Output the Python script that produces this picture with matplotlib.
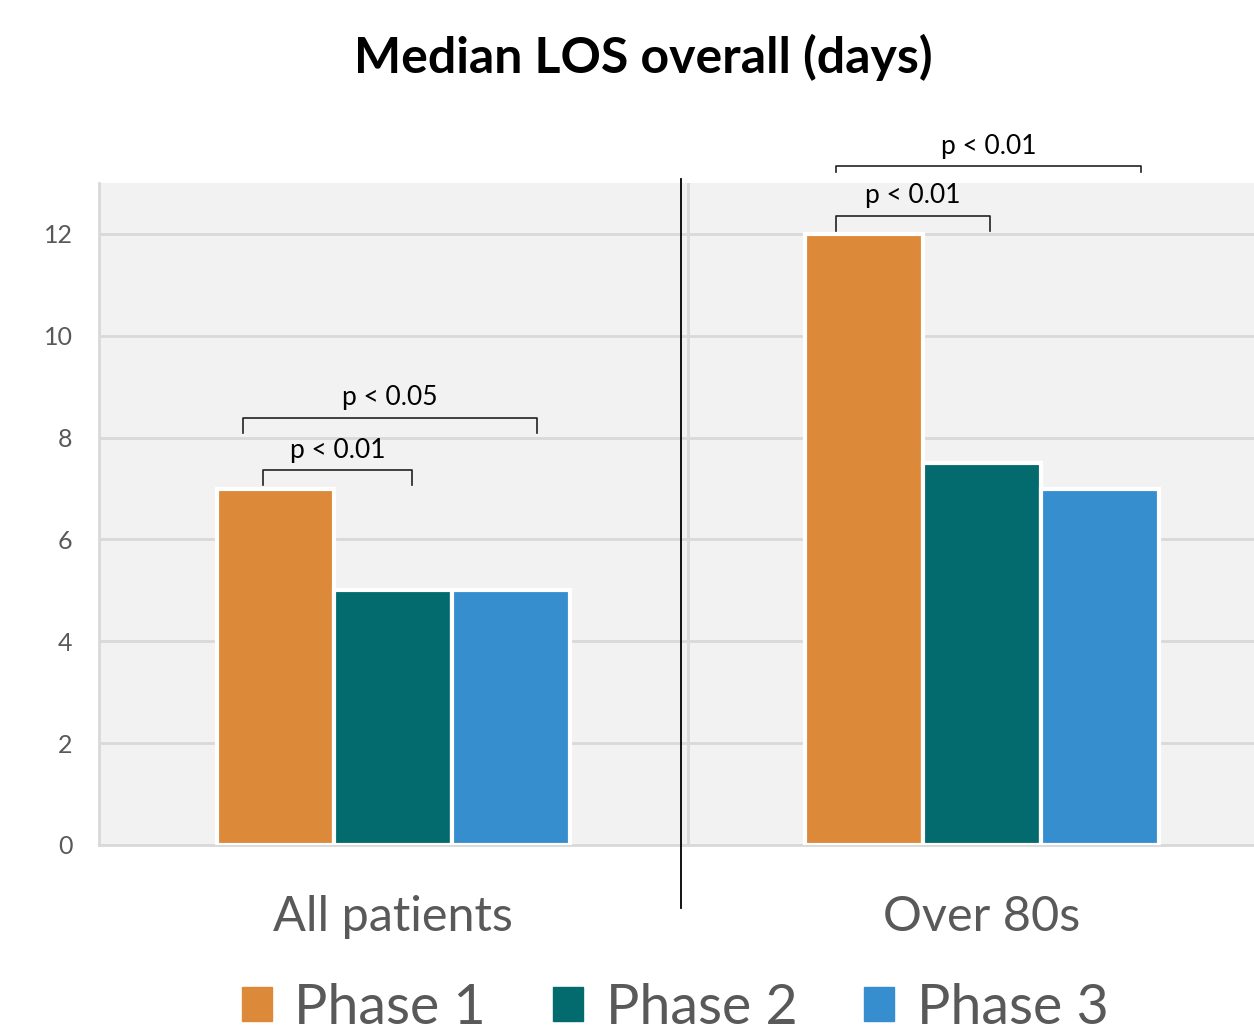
import matplotlib
matplotlib.use("Agg")
import matplotlib.pyplot as plt
import numpy as np

categories = ["All patients", "Over 80s"]
series = ["Phase 1", "Phase 2", "Phase 3"]
phase1 = [7, 12]
phase2 = [5, 7.5]
phase3 = [5, 7]
colors = ["#DC8A3A", "#036B6E", "#378ECE"]
yticks = [0, 2, 4, 6, 8, 10, 12]

# significance brackets: (x_start, x_end, y_top, label)
brackets = [
    (-0.221, 0.031, 7.36, "p < 0.01"),
    (-0.256, 0.244, 8.39, "p < 0.05"),
    (0.752, 1.014, 12.35, "p < 0.01"),
    (0.752, 1.270, 13.33, "p < 0.01"),
]

plt.rcParams['font.family'] = ['Lato', 'DejaVu Sans']

fig = plt.figure(figsize=(12.54, 10.35), dpi=100)
ax = fig.add_axes([99/1254, 1 - 845/1035, (1254-99)/1254, (845-183)/1035])
ax.set_facecolor("#F2F2F2")

x = np.arange(len(categories))
w = 0.2
for i, (vals, c) in enumerate(zip([phase1, phase2, phase3], colors)):
    ax.bar(x + (i - 1) * w, vals, width=w, color=c, edgecolor="white",
           linewidth=3, zorder=3, label=series[i])

ax.set_xlim(-0.5, 1.462)
ax.set_ylim(0, 13)
ax.set_yticks(yticks)
ax.set_yticklabels([str(t) for t in yticks], fontsize=18, color="#595959")
ax.tick_params(axis='y', length=0, pad=19)
ax.set_xticks(x)
ax.set_xticklabels(categories, fontsize=35, color="#595959")
ax.tick_params(axis='x', length=0, pad=36)
ax.grid(axis='y', color="#D9D9D9", linewidth=2, zorder=1)
for s in ["top", "right"]:
    ax.spines[s].set_visible(False)
ax.spines["left"].set_color("#D9D9D9")
ax.spines["left"].set_linewidth(2)
ax.spines["bottom"].set_color("#D9D9D9")
ax.spines["bottom"].set_linewidth(2)

# panel separator
ax.axvline(0.501, color="#D9D9D9", linewidth=2, zorder=1)
ax.plot([0.489, 0.489], [-0.095, 1.006], color="black", linewidth=1.3,
        transform=ax.get_xaxis_transform(), clip_on=False, zorder=5)

for x0, x1, yt, lab in brackets:
    d = 0.3 if yt < 13 else 0.12
    ax.plot([x0, x0, x1, x1], [yt - d, yt, yt, yt - d], color="#222222",
            linewidth=1.2, clip_on=False, zorder=5)
    ax.text((x0 + x1) / 2, yt + 0.15, lab, ha="center", va="bottom",
            fontsize=19, color="black")

fig.text(643/1254, 1 - 57/1035, "Median LOS overall (days)", ha="center",
         va="center", fontsize=36, fontweight="bold", color="black")

handles = [plt.Rectangle((0, 0), 1, 1, color=c) for c in colors]
fig.legend(handles, series, loc="center", bbox_to_anchor=(675/1254, 1 - 1008/1035),
           ncol=3, frameon=False, fontsize=40, labelcolor="#595959",
           handlelength=0.55, handleheight=0.55, handletextpad=0.4,
           columnspacing=1.2)

fig.savefig("out.png", dpi=100)
